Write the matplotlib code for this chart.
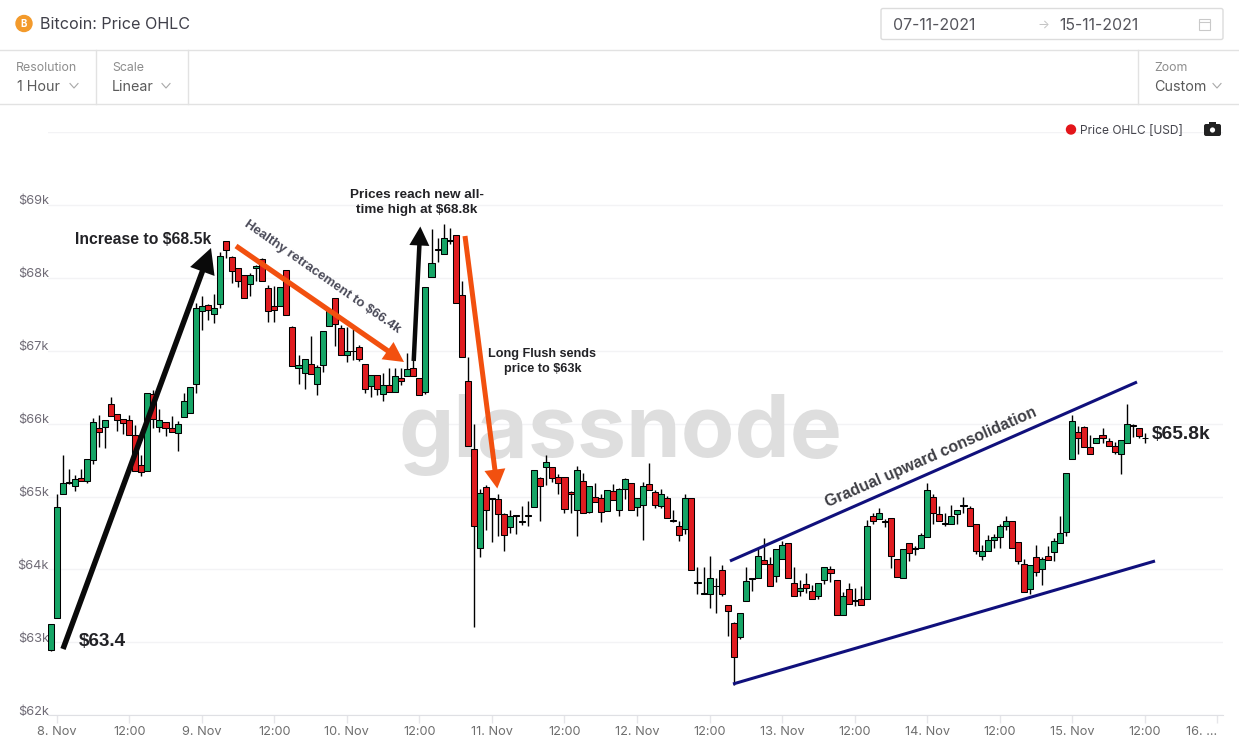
#importing the visualisation stuff.
import matplotlib
matplotlib.use("Agg")
import matplotlib.pyplot as plt
from matplotlib.patches import Circle, FancyBboxPatch, Rectangle
from matplotlib.transforms import ScaledTranslation

# hours since 8 Nov 00:00, one candle per hour
hours = list(range(-1, 181))

opens = [
    62900, 63340, 65030, 65180, 65150, 65260, 65210, 65500, 65940, 65960,
    66270, 66130, 66060, 66050, 65840, 65430, 65350, 66410, 65960, 66020,
    65940, 65870, 66090, 66140, 66540, 67540, 67630, 67510, 67640, 68500,
    68290, 68130, 68040, 67910, 68130, 68260, 67860, 67620, 67610, 68110,
    67330, 66770, 66700, 66820, 66540, 66800, 67340, 67730, 67310, 66940,
    66990, 67050, 66820, 66510, 66670, 66410, 66530, 66440, 66630, 66660,
    66770, 66620, 66440, 68010, 68390, 68320, 68500, 68590, 67760, 66580,
    65650, 64300, 65130, 64980, 64970, 64760, 64580, 64750, 64650, 64740,
    64850, 65260, 65400, 65400, 65270, 65270, 65060, 64820, 65220, 64790,
    65000, 64980, 64800, 65080, 64810, 65100, 65180, 64850, 64880, 65170,
    65060, 64870, 64980, 64680, 64600, 64550, 64980, 63820, 63670, 63660,
    63770, 63990, 63510, 63260, 63070, 63570, 63870, 63880, 64130, 64080,
    63910, 64150, 64360, 63820, 63710, 63800, 63710, 63630, 63860, 64010,
    63850, 63370, 63730, 63580, 63590, 63590, 64740, 64690, 64650, 64700,
    64140, 63880, 64360, 64280, 64290, 64450, 64990, 64760, 64630, 64630,
    64760, 64890, 64840, 64630, 64180, 64260, 64410, 64440, 64600, 64660,
    64370, 64080, 63730, 64170, 64000, 64180, 64240, 64360, 64510, 65510,
    65890, 65960, 65680, 65730, 65840, 65760, 65700, 65590, 65730, 65980,
    65940, 65810,
]
highs = [
    63250, 65040, 65570, 65380, 65300, 65380, 65520, 66080, 66120, 66050,
    66370, 66130, 66060, 66120, 65980, 65570, 66420, 66460, 66200, 66020,
    66100, 66040, 66420, 66500, 67660, 67750, 67640, 67780, 68360, 68500,
    68300, 68130, 68040, 68070, 68180, 68270, 67900, 67890, 67880, 68110,
    67340, 66940, 66890, 67200, 66800, 67270, 67560, 67730, 67350, 67330,
    67300, 67080, 66820, 66670, 66670, 66690, 66760, 66760, 66760, 66970,
    66870, 66620, 67880, 68670, 68550, 68740, 68690, 68590, 67960, 66910,
    66000, 65100, 65160, 64980, 65040, 64770, 64820, 64750, 64870, 64940,
    65360, 65270, 65570, 65400, 65310, 65270, 65080, 65420, 65330, 65140,
    65190, 65030, 65090, 65170, 65120, 65250, 65190, 64980, 65200, 65460,
    65090, 65100, 65010, 64820, 64660, 65030, 64980, 64040, 64040, 64180,
    63880, 64060, 63510, 63280, 63400, 64030, 63880, 64290, 64430, 64170,
    64280, 64390, 64360, 64030, 63860, 63950, 63790, 63810, 64030, 64050,
    63850, 63690, 63820, 63750, 63770, 64680, 64780, 64840, 64690, 64700,
    64140, 64280, 64360, 64320, 64500, 65180, 65040, 64870, 64780, 64890,
    64820, 65000, 64870, 64630, 64340, 64470, 64480, 64630, 64740, 64660,
    64370, 64150, 64060, 64340, 64170, 64320, 64430, 64730, 65330, 66120,
    65970, 65970, 65850, 65800, 65940, 65810, 65750, 65770, 66270, 65990,
    65940, 65870,
]
lows = [
    62880, 63340, 65030, 65170, 65080, 65210, 65180, 65450, 65680, 65670,
    66110, 65900, 65860, 65850, 65350, 65280, 65350, 65940, 65890, 65830,
    65880, 65630, 66090, 66140, 66420, 67280, 67420, 67380, 67590, 68270,
    67930, 67880, 67720, 67750, 67950, 67950, 67400, 67400, 67610, 67490,
    66790, 66550, 66480, 66680, 66390, 66710, 67340, 67060, 66940, 66840,
    66870, 66860, 66420, 66360, 66390, 66310, 66440, 66440, 66530, 66660,
    66660, 66390, 66410, 68010, 68220, 68320, 68470, 67660, 66920, 65700,
    63210, 64170, 64540, 64380, 64460, 64260, 64500, 64490, 64610, 64590,
    64850, 64670, 65160, 65200, 65040, 64770, 64780, 64460, 64770, 64770,
    64920, 64650, 64800, 64950, 64740, 64970, 64810, 64740, 64410, 65090,
    64840, 64840, 64700, 64650, 64390, 64480, 63990, 63660, 63660, 63470,
    63400, 63640, 63090, 62410, 63040, 63570, 63710, 63880, 64070, 63780,
    63830, 64150, 63880, 63640, 63630, 63680, 63590, 63600, 63800, 63830,
    63370, 63370, 63530, 63500, 63510, 63590, 64630, 64690, 64580, 64020,
    63890, 63880, 64120, 64200, 64290, 64450, 64620, 64670, 64590, 64630,
    64630, 64770, 64600, 64210, 64130, 64250, 64290, 64300, 64540, 64290,
    64080, 63690, 63670, 63910, 63790, 64130, 64110, 64360, 64460, 65510,
    65590, 65680, 65590, 65730, 65730, 65700, 65580, 65310, 65730, 65820,
    65800, 65740,
]
closes = [
    63250, 64850, 65180, 65200, 65240, 65210, 65520, 66020, 65880, 66050,
    66110, 66050, 66010, 65850, 65350, 65340, 66420, 66060, 66050, 65940,
    65880, 66000, 66310, 66500, 67580, 67610, 67560, 67590, 68300, 68380,
    68100, 67950, 67720, 68040, 68160, 67950, 67540, 67560, 67880, 67490,
    66790, 66810, 66890, 66680, 66780, 67270, 67540, 67370, 66940, 67000,
    67000, 66890, 66480, 66670, 66470, 66530, 66440, 66660, 66590, 66750,
    66660, 66390, 67880, 68210, 68380, 68540, 68520, 67660, 66920, 65700,
    64600, 65050, 64810, 64970, 64760, 64470, 64740, 64740, 64660, 64750,
    65360, 65150, 65470, 65250, 65180, 64830, 65040, 65360, 64770, 65140,
    64920, 64790, 65090, 64950, 65110, 65240, 64810, 64980, 65140, 65090,
    64880, 65030, 64700, 64660, 64470, 64980, 63990, 63830, 63680, 63880,
    63780, 63660, 63430, 62800, 63400, 63840, 63880, 64190, 64070, 63780,
    64280, 64330, 63880, 63640, 63750, 63750, 63590, 63810, 64030, 63950,
    63370, 63630, 63530, 63570, 63510, 64590, 64660, 64780, 64660, 64180,
    63890, 64280, 64220, 64290, 64470, 65090, 64780, 64670, 64640, 64730,
    64820, 64870, 64600, 64250, 64250, 64410, 64450, 64590, 64670, 64290,
    64110, 63690, 64060, 63960, 64140, 64130, 64390, 64500, 65330, 66030,
    65800, 65680, 65590, 65800, 65800, 65700, 65610, 65770, 65990, 65970,
    65830, 65800,
]

y_ticks = [62000, 63000, 64000, 65000, 66000, 67000, 68000, 69000, 70000]
y_labels = ["$62k", "$63k", "$64k", "$65k", "$66k", "$67k", "$68k", "$69k", ""]
x_ticks = [0, 12, 24, 36, 48, 60, 72, 84, 96, 108, 120, 132, 144, 156, 168, 180, 192]
x_labels = ["8. Nov", "12:00", "9. Nov", "12:00", "10. Nov", "12:00", "11. Nov", "12:00", "12. Nov",
            "12:00", "13. Nov", "12:00", "14. Nov", "12:00", "15. Nov", "12:00", "16. ..."]

WIDTH, HEIGHT = 1239, 749
GREEN = "#16a566"
RED = "#e01c20"
UI_FONT = ["Inter", "DejaVu Sans"]
NOTE_FONT = ["Liberation Sans", "DejaVu Sans"]


def candles(fig):
    # plot area sits at 48..1223 px across and 132..715 px down
    ax = fig.add_axes([48 / WIDTH, (HEIGHT - 715.3) / HEIGHT, 1175 / WIDTH, 583.3 / HEIGHT])
    ax.set_xlim(-1.44, 192.93)
    ax.set_ylim(62000, 70000)
    ax.set_axisbelow(True)
    ax.grid(axis="y", color="#f3f3f5", lw=1)
    for side in ["top", "left", "right"]:
        ax.spines[side].set_visible(False)
    ax.spines["bottom"].set_color("#dfe0e4")

    ax.set_yticks(y_ticks, y_labels, fontfamily=UI_FONT, fontsize=9.2, color="#6f6b76")
    ax.tick_params(axis="y", length=0, pad=-0.5)
    # labels sit just above their grid line
    lift = ScaledTranslation(0, 0.5 / 100, fig.dpi_scale_trans)
    for label in ax.get_yticklabels():
        label.set_verticalalignment("baseline")
        label.set_transform(label.get_transform() + lift)
    ax.set_xticks(x_ticks, x_labels, fontfamily=UI_FONT, fontsize=9.2, color="#6f6f6f")
    ax.tick_params(axis="x", length=6, width=1, color="#e6e6ea", pad=1.5)
    ax.get_xticklabels()[-1].set_horizontalalignment("right")

    # watermark goes behind the candles
    ax.text(0.4868, 0.4805, "glassnode", transform=ax.transAxes, ha="center", va="center",
            fontfamily=UI_FONT, fontsize=63, fontweight="bold", color="#dedede", zorder=1)

    # wicks first then bodies on top
    ax.vlines(hours, lows, highs, color="black", lw=1.0, zorder=2)
    bottoms = [min(o, c) for o, c in zip(opens, closes)]
    heights = [abs(c - o) for o, c in zip(opens, closes)]
    colours = [GREEN if c >= o else RED for o, c in zip(opens, closes)]
    ax.bar(hours, heights, bottom=bottoms, width=1.0, color=colours,
           edgecolor="black", linewidth=0.75, zorder=3)
    return ax


def chevron(over, x, y):
    over.plot([x - 4, x, x + 4], [y - 2, y + 2.5, y - 2], color="#a8a8a8", lw=0.8)


def header(over):
    line = "#e2e2e2"
    over.plot([0, WIDTH], [50, 50], color=line, lw=1)
    over.plot([0, WIDTH], [104, 104], color=line, lw=1)
    for x in [95.5, 187.5, 1137.5]:
        over.plot([x, x], [50, 104], color=line, lw=1)

    over.add_patch(Circle((24, 23.5), 8, color="#f39a2b"))
    over.text(24, 24, "B", color="white", fontsize=7, fontweight="bold", ha="center", va="center",
              fontfamily=UI_FONT)
    over.text(40, 24.5, "Bitcoin: Price OHLC", fontsize=11.6, color="#40404a", va="center", fontfamily=UI_FONT)

    # date range box
    over.add_patch(FancyBboxPatch((881, 8.5), 342, 31, boxstyle="round,pad=0,rounding_size=2",
                                  fc="white", ec="#dcdcdc", lw=1))
    over.text(893, 25, "07-11-2021", fontsize=11.4, color="#55555c", va="center", fontfamily=UI_FONT)
    over.text(1043, 25, "→", fontsize=9, color="#c4c4c4", ha="center", va="center", fontfamily=UI_FONT)
    over.text(1059, 25, "15-11-2021", fontsize=11.4, color="#55555c", va="center", fontfamily=UI_FONT)
    over.add_patch(Rectangle((1198.5, 18.5), 11.5, 11, fc="white", ec="#c9c9c9", lw=0.8))
    over.plot([1198.5, 1210], [22, 22], color="#c9c9c9", lw=0.8)

    for x, top, value in [(16, "Resolution", "1 Hour"), (112, "Scale", "Linear"), (1154, "Zoom", "Custom")]:
        over.text(x, 68, top, fontsize=8.9, color="#8d8d8d", va="center", fontfamily=UI_FONT)
        over.text(x + (1 if x == 16 else 0), 87, value, fontsize=10.3, color="#5a5a5a", va="center",
                  fontfamily=UI_FONT)
    chevron(over, 74, 85.5)
    chevron(over, 166, 85.5)
    chevron(over, 1217, 85.5)

    # legend and camera
    over.add_patch(Circle((1071, 129.5), 4.5, color="#e3151a"))
    over.text(1080, 130.5, "Price OHLC [USD]", fontsize=8.6, color="#45454d", va="center", fontfamily=UI_FONT)
    over.add_patch(FancyBboxPatch((1204, 124), 17, 12, boxstyle="round,pad=0,rounding_size=2", fc="#222222", ec="none"))
    over.add_patch(Rectangle((1209, 121.5), 7, 3, fc="#222222", ec="none"))
    over.add_patch(Circle((1212.5, 130), 2.6, fc="white", ec="none"))


def arrow(over, start, tip, colour, shaft, head_w, head_l):
    # sizes come in as pixels, annotate wants points
    over.annotate("", xy=tip, xytext=start,
                  arrowprops=dict(facecolor=colour, edgecolor="none", width=shaft * 0.72,
                                  headwidth=head_w * 0.72, headlength=head_l * 0.72, shrink=0))


def notes(over):
    arrow(over, (63, 649), (211, 248), "#0a0a0a", 5.5, 26, 25)
    arrow(over, (413.7, 361), (420.3, 226.5), "#0a0a0a", 4.5, 20, 19)
    arrow(over, (236, 246), (404, 362), "#f2500f", 5.2, 21, 20)
    arrow(over, (465, 236), (497.3, 488.5), "#f2500f", 5, 21, 19)

    # the channel lines
    over.plot([730, 1137], [561, 382], color="#10107c", lw=2.2, solid_capstyle="butt")
    over.plot([733, 1155], [684, 561], color="#10107c", lw=2.2, solid_capstyle="butt")

    dark = "#222226"
    over.text(143, 239.5, "Increase to $68.5k", fontsize=11.3, fontweight="bold", color=dark,
              ha="center", va="center", fontfamily=NOTE_FONT)
    over.text(102.5, 641.5, "$63.4", fontsize=13.6, fontweight="bold", color=dark,
              ha="center", va="center", fontfamily=NOTE_FONT)
    over.text(417, 202.5, "Prices reach new all-\ntime high at $68.8k", fontsize=9.7, fontweight="bold", color=dark,
              ha="center", va="center", linespacing=1.4, fontfamily=NOTE_FONT)
    over.text(322, 277, "Healthy retracement to $66.4k", fontsize=9.5, fontweight="bold", color="#4a4a58",
              ha="center", va="center", rotation=-35, rotation_mode="anchor", fontfamily=NOTE_FONT)
    over.text(542.5, 361.5, "Long Flush sends\nprice to $63k", fontsize=9.1, fontweight="bold", color=dark,
              ha="center", va="center", linespacing=1.4, fontfamily=NOTE_FONT)
    over.text(930.5, 457, "Gradual upward consolidation", fontsize=11.4, fontweight="bold", color="#3e3e44",
              ha="center", va="center", rotation=23.6, rotation_mode="anchor", fontfamily=NOTE_FONT)
    over.text(1181, 434.5, "$65.8k", fontsize=13.8, fontweight="bold", color=dark,
              ha="center", va="center", fontfamily=NOTE_FONT)


def run():
    fig = plt.figure(figsize=(WIDTH / 100, HEIGHT / 100), dpi=100, facecolor="white")
    candles(fig)

    # overlay in pixel coordinates for page furniture and hand drawn notes
    over = fig.add_axes([0, 0, 1, 1], facecolor="none")
    over.set_xlim(0, WIDTH)
    over.set_ylim(HEIGHT, 0)
    over.axis("off")
    header(over)
    notes(over)

    fig.savefig("out.png", dpi=100)


if __name__ == "__main__":
    run()
